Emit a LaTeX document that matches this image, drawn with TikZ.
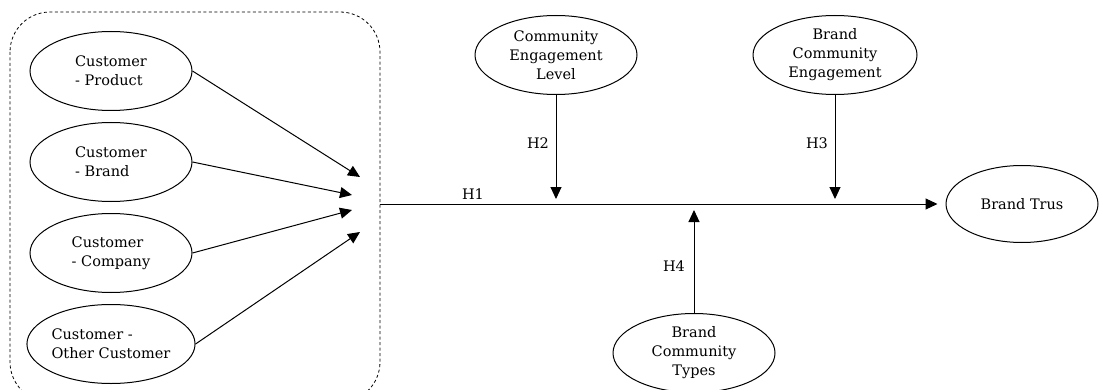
\documentclass[tikz,border=0pt]{standalone}
\usepackage{fontspec}
\setmainfont{DejaVu Serif}
\usetikzlibrary{arrows.meta,positioning,shapes.geometric}

\begin{document}
\begin{tikzpicture}[
  x=1pt, y=-1pt,
  >={Triangle[length=12pt,width=11pt]},
  every node/.style={font=\fontsize{14.5}{19}\selectfont},
  construct/.style={draw, ellipse, line width=1pt, minimum width=162pt, minimum height=79pt, inner sep=0pt, align=center},
  link/.style={->, line width=1pt},
  hyp/.style={inner sep=1pt}
]
\useasboundingbox (0,0) rectangle (1099,390);
\draw[dash pattern=on 3pt off 2.5pt, rounded corners=40pt, line width=0.8pt] (10,12) rectangle (380,402);

\node[construct, align=left] (cprod) at (111,71) {Customer\\- Product};
\node[construct, align=left] (cbrand) at (111,162) {Customer\\- Brand};
\node[construct, align=left] (ccomp) at (111,253) {Customer\\- Company};
\node[construct, align=left] (cother) at (111,344) {Customer -\\Other Customer};

\node[construct] (cel) at (556,55) {Community\\Engagement\\Level};
\node[construct, minimum width=164pt] (bce) at (835,55) {Brand\\Community\\Engagement};
\node[construct] (bct) at (694,353) {Brand\\Community\\Types};
\node[construct, minimum width=152pt, minimum height=77pt] (trust) at (1022,204) {Brand Trus};

\coordinate (in1) at (360,177);
\coordinate (in2) at (352,195);
\coordinate (in3) at (352,210);
\coordinate (in4) at (360,232);
\coordinate (hstart) at (380,204);
\coordinate (mod2) at (556,199);
\coordinate (mod3) at (835,199);
\coordinate (mod4) at (694,210);

\draw[link] (cprod.east) -- (in1);
\draw[link] (cbrand.east) -- (in2);
\draw[link] (ccomp.east) -- (in3);
\draw[link] (cother.east) -- (in4);

\draw[link, shorten >=8pt] (hstart) -- (trust.west);
\draw[link] (cel.south) -- (mod2);
\draw[link] (bce.south) -- (mod3);
\draw[link] (bct.north) -- (mod4);

\node[hyp] (h1) at (473,194) {H1};
\node[hyp] (h2) at (538,143) {H2};
\node[hyp] (h3) at (817,143) {H3};
\node[hyp] (h4) at (674,266) {H4};
\end{tikzpicture}
\end{document}
